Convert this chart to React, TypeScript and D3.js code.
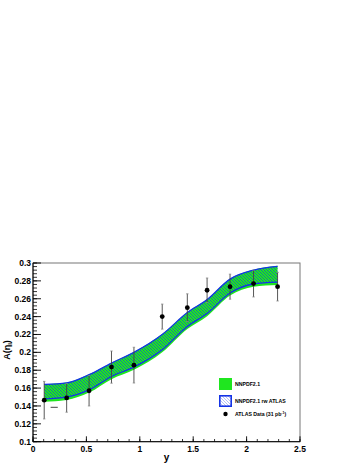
import React from 'react'
import * as d3 from 'd3'

// ATLAS W lepton charge asymmetry, bin centres in lepton rapidity
const yBins = [0.105, 0.315, 0.525, 0.735, 0.945, 1.21, 1.445, 1.63, 1.845, 2.065, 2.29]
const atlasA = [0.1465, 0.1490, 0.157, 0.1835, 0.1857, 0.240, 0.250, 0.2695, 0.2735, 0.2770, 0.2735]
const atlasErr = [0.021, 0.016, 0.017, 0.018, 0.020, 0.014, 0.0155, 0.0137, 0.014, 0.015, 0.016]

// NNPDF2.1 prediction band
const nnpdfHi = [0.1645, 0.1663, 0.1755, 0.1885, 0.2005, 0.2205, 0.245, 0.2595, 0.2825, 0.2925, 0.2968]
const nnpdfLo = [0.1448, 0.1468, 0.155, 0.170, 0.1805, 0.200, 0.226, 0.2405, 0.2635, 0.2735, 0.2755]

// NNPDF2.1 reweighted with ATLAS
const rwHi = [0.164, 0.1658, 0.175, 0.188, 0.200, 0.220, 0.2445, 0.259, 0.282, 0.292, 0.2963]
const rwLo = [0.148, 0.1500, 0.158, 0.173, 0.1835, 0.203, 0.229, 0.2435, 0.2665, 0.2765, 0.2785]

// a stray horizontal dash present in the original
const strayDash = { x0: 0.165, x1: 0.232, y: 0.1385 }

const xTicks = [0, 0.5, 1, 1.5, 2, 2.5]
const xTickLabels = ['0', '0.5', '1', '1.5', '2', '2.5']
const yTicks = [0.1, 0.12, 0.14, 0.16, 0.18, 0.2, 0.22, 0.24, 0.26, 0.28, 0.3]
const yTickLabels = ['0.1', '0.12', '0.14', '0.16', '0.18', '0.2', '0.22', '0.24', '0.26', '0.28', '0.3']

const legendLabels = ['NNPDF2.1', 'NNPDF2.1 rw ATLAS', 'ATLAS Data (31 pb']

const W = 360
const H = 466
const left = 33
const right = 300
const top = 263
const bottom = 441.7

const GREEN = '#1fe61f'
const BLUE = '#1433e6'
const FONT = '"Liberation Sans", Arial, Helvetica, sans-serif'

export default function App() {
  const x = d3.scaleLinear().domain([0, 2.5]).range([left, right])
  const y = d3.scaleLinear().domain([0.1, 0.3]).range([bottom, top])

  const idx = d3.range(yBins.length)
  const bandArea = (hi: number[], lo: number[]) =>
    d3
      .area<number>()
      .x(i => x(yBins[i]))
      .y0(i => y(lo[i]))
      .y1(i => y(hi[i]))
      .curve(d3.curveMonotoneX)(idx) as string
  const edge = (v: number[]) =>
    d3
      .line<number>()
      .x(i => x(yBins[i]))
      .y(i => y(v[i]))
      .curve(d3.curveMonotoneX)(idx) as string

  const xMinor = d3.range(0, 2.5001, 0.1)
  const yMinor = d3.range(0.1, 0.3001, 0.004)

  const lx = 219
  const lw = 13
  const lh = 12
  const rows = [378, 395, 408]

  return (
    <svg width={W} height={H} style={{ position: 'absolute', left: 0, top: 0, background: '#fff' }} fontFamily={FONT}>
      <defs>
        <pattern id="hatch" patternUnits="userSpaceOnUse" width={3} height={3}>
          <path d="M-1,2 L1,4 M0,0 L3,3 M2,-1 L4,1" stroke={BLUE} strokeWidth={0.7} />
        </pattern>
        <clipPath id="frame">
          <rect x={left} y={top} width={right - left} height={bottom - top} />
        </clipPath>
      </defs>
      <rect x={0} y={0} width={W} height={H} fill="#fff" />

      <g clipPath="url(#frame)">
        <path d={bandArea(nnpdfHi, nnpdfLo)} fill={GREEN} />
        <path d={bandArea(rwHi, rwLo)} fill="url(#hatch)" opacity={0.85} />
        <path d={edge(rwHi)} fill="none" stroke={BLUE} strokeWidth={1.3} />
        <path d={edge(rwLo)} fill="none" stroke={BLUE} strokeWidth={1.3} />
      </g>

      {/* frame */}
      <rect x={left} y={top} width={right - left} height={bottom - top} fill="none" stroke="#777" strokeWidth={1} />

      {/* data */}
      <line x1={x(strayDash.x0)} x2={x(strayDash.x1)} y1={y(strayDash.y)} y2={y(strayDash.y)} stroke="#444" strokeWidth={1} />
      {yBins.map((b, i) => (
        <g key={b}>
          <line x1={x(b)} x2={x(b)} y1={y(atlasA[i] - atlasErr[i])} y2={y(atlasA[i] + atlasErr[i])} stroke="#444" strokeWidth={0.9} />
          <line x1={x(b) - 1.2} x2={x(b) + 1.2} y1={y(atlasA[i] - atlasErr[i])} y2={y(atlasA[i] - atlasErr[i])} stroke="#888" strokeWidth={0.8} />
          <line x1={x(b) - 1.2} x2={x(b) + 1.2} y1={y(atlasA[i] + atlasErr[i])} y2={y(atlasA[i] + atlasErr[i])} stroke="#888" strokeWidth={0.8} />
          <circle cx={x(b)} cy={y(atlasA[i])} r={2.4} fill="#000" />
        </g>
      ))}

      {/* axes */}
      <line x1={left} x2={right} y1={bottom} y2={bottom} stroke="#000" strokeWidth={1} />
      <line x1={left} x2={left} y1={top} y2={bottom} stroke="#000" strokeWidth={1} />
      {xMinor.map(t => (
        <line key={t} x1={x(t)} x2={x(t)} y1={bottom} y2={bottom - 2.7} stroke="#000" strokeWidth={0.8} />
      ))}
      {xTicks.map((t, i) => (
        <g key={t}>
          <line x1={x(t)} x2={x(t)} y1={bottom} y2={bottom - 5.4} stroke="#000" strokeWidth={0.9} />
          <text x={x(t)} y={452} textAnchor="middle" fontSize={8.5} fontWeight="bold">
            {xTickLabels[i]}
          </text>
        </g>
      ))}
      {yMinor.map(t => (
        <line key={t} x1={left} x2={left + 4} y1={y(t)} y2={y(t)} stroke="#000" strokeWidth={0.8} />
      ))}
      {yTicks.map((t, i) => (
        <g key={t}>
          <line x1={left} x2={left + 8} y1={y(t)} y2={y(t)} stroke="#000" strokeWidth={0.9} />
          <text x={31} y={y(t) + 3} textAnchor="end" fontSize={8.5} fontWeight="bold">
            {yTickLabels[i]}
          </text>
        </g>
      ))}
      <text x={(left + right) / 2} y={461} textAnchor="middle" fontSize={10} fontWeight="bold">
        y
      </text>
      <text transform="translate(10,350) rotate(-90)" textAnchor="middle" fontSize={9} fontWeight="bold">
        A(η<tspan fontSize={6} dy={2}>l</tspan>
        <tspan dy={-2}>)</tspan>
      </text>

      {/* legend */}
      <rect x={lx} y={rows[0]} width={lw} height={lh} fill={GREEN} />
      <text x={lx + lw + 3} y={rows[0] + lh / 2 + 1.8} fontSize={5.2} fontWeight="bold">
        {legendLabels[0]}
      </text>
      <rect x={lx} y={rows[1]} width={lw} height={lh} fill="#fff" />
      <rect x={lx} y={rows[1]} width={lw} height={lh} fill="url(#hatch)" opacity={0.45} />
      <rect x={lx + 0.8} y={rows[1] + 0.8} width={lw - 1.6} height={lh - 1.6} fill="none" stroke={BLUE} strokeWidth={1.6} />
      <text x={lx + lw + 3} y={rows[1] + lh / 2 + 1.8} fontSize={5.2} fontWeight="bold">
        {legendLabels[1]}
      </text>
      <circle cx={lx + 6.5} cy={rows[2] + 6} r={2.2} fill="#000" />
      <text x={lx + lw + 3} y={rows[2] + 6 + 1.8} fontSize={5.2} fontWeight="bold">
        {legendLabels[2]}
        <tspan fontSize={3.6} dy={-2}>-1</tspan>
        <tspan dy={2}>)</tspan>
      </text>
    </svg>
  )
}
